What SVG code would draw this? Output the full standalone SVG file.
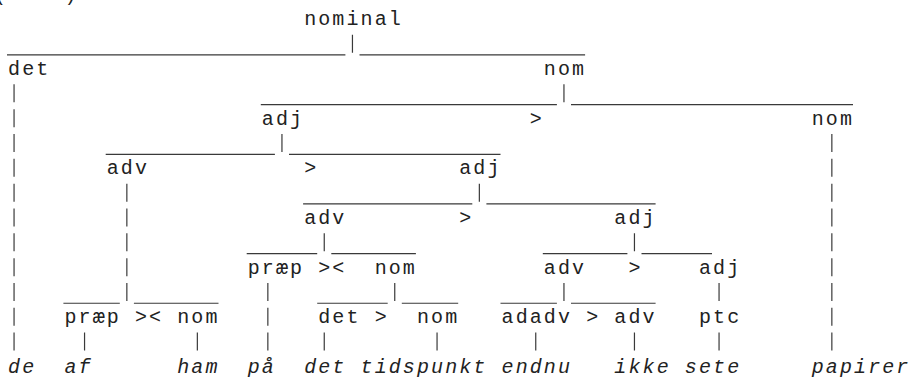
<svg xmlns="http://www.w3.org/2000/svg" width="911" height="378" viewBox="0 0 911 378">
  <style>
    text { font-family: "Courier New", "Liberation Mono", monospace; font-size: 20px; letter-spacing: 2.1px; fill: #222; }
    .leaf { font-style: italic; }
    .ln { stroke: #3a3a3a; stroke-width: 1.2; fill: none; }
  </style>
  <rect width="911" height="378" fill="#ffffff"/>

  <!-- connectors: junction bars and underscore rails, on a 14.1px character grid -->
  <g id="connectors">
    <path class="ln" d="
      M7 54.96H345.4 M359.5 54.96H585.1
      M260.8 104.62H556.9 M571 104.62H853
      M105.7 154.28H274.9 M289 154.28H500.5
      M303.1 203.94H472.3 M486.4 203.94H655.6
      M246.7 253.6H317.2 M331.3 253.6H415.9 M542.8 253.6H627.4 M641.5 253.6H712
      M63.4 303.26H119.8 M133.9 303.26H218.5 M317.2 303.26H387.7 M401.8 303.26H458.2 M500.5 303.26H556.9 M571 303.26H655.6"/>
    <path class="ln" d="
      M352.45 34.66v18
      M14.05 84.32v18 M563.95 84.32v18
      M14.05 109.15v18
      M14.05 133.98v18 M281.95 133.98v18 M831.85 133.98v18
      M14.05 158.81v18 M831.85 158.81v18
      M14.05 183.64v18 M126.85 183.64v18 M479.35 183.64v18 M831.85 183.64v18
      M14.05 208.47v18 M126.85 208.47v18 M831.85 208.47v18
      M14.05 233.3v18 M126.85 233.3v18 M324.25 233.3v18 M634.45 233.3v18 M831.85 233.3v18
      M14.05 258.13v18 M126.85 258.13v18 M831.85 258.13v18
      M14.05 282.96v18 M126.85 282.96v18 M267.85 282.96v18 M394.75 282.96v18 M563.95 282.96v18 M719.05 282.96v18 M831.85 282.96v18
      M14.05 307.79v18 M267.85 307.79v18 M831.85 307.79v18
      M14.05 332.62v18 M84.55 332.62v18 M197.35 332.62v18 M267.85 332.62v18 M324.25 332.62v18 M437.05 332.62v18 M535.75 332.62v18 M634.45 332.62v18 M719.05 332.62v18 M831.85 332.62v18"/>
  </g>

  <!-- head-direction markers between sister constituents -->
  <g id="head-markers">
    <text x="529.75" y="124.75">&gt;</text>
    <text x="304.15" y="174.41">&gt;</text>
    <text x="459.25" y="224.07">&gt;</text>
    <text x="318.25" y="273.73">&gt;&lt;</text>
    <text x="628.45" y="273.73">&gt;</text>
    <text x="134.95" y="323.39">&gt;&lt;</text>
    <text x="374.65" y="323.39">&gt;</text>
    <text x="586.15" y="323.39">&gt;</text>
  </g>

  <!-- example number, clipped at the top edge -->
  <g id="example-number">
    <text x="-6" y="0.6">(</text>
    <text x="64.45" y="0.6">)</text>
  </g>

  <!-- category nodes -->
  <g id="n-nominal"><text x="304.15" y="25.43">nominal</text></g>
  <g id="n-det"><text x="8.05" y="75.09">det</text></g>
  <g id="n-nom1"><text x="543.85" y="75.09">nom</text></g>
  <g id="n-adj1"><text x="261.85" y="124.75">adj</text></g>
  <g id="n-nom2"><text x="811.75" y="124.75">nom</text></g>
  <g id="n-adv1"><text x="106.75" y="174.41">adv</text></g>
  <g id="n-adj2"><text x="459.25" y="174.41">adj</text></g>
  <g id="n-adv2"><text x="304.15" y="224.07">adv</text></g>
  <g id="n-adj3"><text x="614.35" y="224.07">adj</text></g>
  <g id="n-praep1"><text x="247.75" y="273.73">præp</text></g>
  <g id="n-nom3"><text x="374.65" y="273.73">nom</text></g>
  <g id="n-adv3"><text x="543.85" y="273.73">adv</text></g>
  <g id="n-adj4"><text x="698.95" y="273.73">adj</text></g>
  <g id="n-praep2"><text x="64.45" y="323.39">præp</text></g>
  <g id="n-nom4"><text x="177.25" y="323.39">nom</text></g>
  <g id="n-det2"><text x="318.25" y="323.39">det</text></g>
  <g id="n-nom5"><text x="416.95" y="323.39">nom</text></g>
  <g id="n-adadv"><text x="501.55" y="323.39">adadv</text></g>
  <g id="n-adv4"><text x="614.35" y="323.39">adv</text></g>
  <g id="n-ptc"><text x="698.95" y="323.39">ptc</text></g>

  <!-- word leaves -->
  <g id="w-de"><text class="leaf" x="8.05" y="373.05">de</text></g>
  <g id="w-af"><text class="leaf" x="64.45" y="373.05">af</text></g>
  <g id="w-ham"><text class="leaf" x="177.25" y="373.05">ham</text></g>
  <g id="w-paa"><text class="leaf" x="247.75" y="373.05">på</text></g>
  <g id="w-det"><text class="leaf" x="304.15" y="373.05">det</text></g>
  <g id="w-tidspunkt"><text class="leaf" x="360.55" y="373.05">tidspunkt</text></g>
  <g id="w-endnu"><text class="leaf" x="501.55" y="373.05">endnu</text></g>
  <g id="w-ikke"><text class="leaf" x="614.35" y="373.05">ikke</text></g>
  <g id="w-sete"><text class="leaf" x="684.85" y="373.05">sete</text></g>
  <g id="w-papirer"><text class="leaf" x="811.75" y="373.05">papirer</text></g>
</svg>
